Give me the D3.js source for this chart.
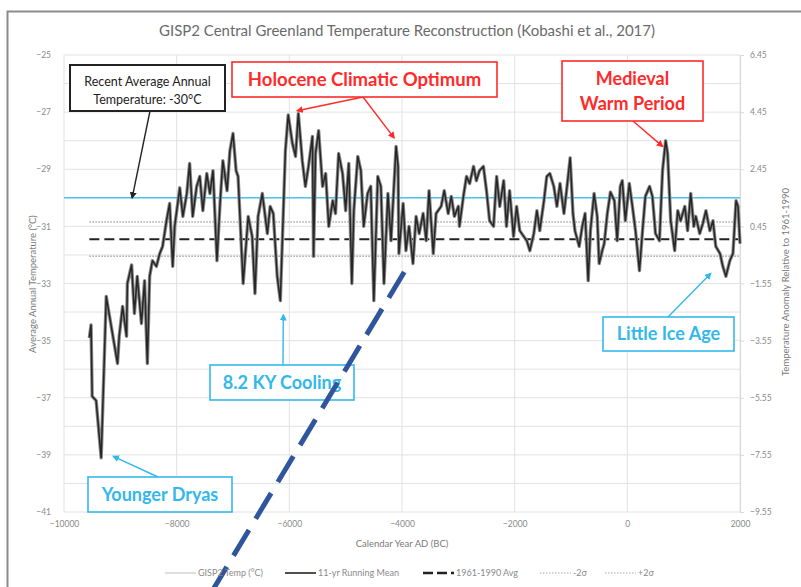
<!DOCTYPE html>
<html>
<head>
<meta charset="utf-8">
<style>
body { margin: 0; background: #fff; }
text { font-family: Lato, "Open Sans", sans-serif; }
.grid line { stroke: #e2e2e2; stroke-width: 1; }
.axis text { fill: #8a8a8a; font-size: 8.5px; }
.axis .domain { stroke: #d9d9d9; }
.axis line { stroke: #d9d9d9; }
.title { fill: #6a6a6a; font-size: 15px; }
.atitle { fill: #7a7a7a; font-size: 9.5px; }
.legend text { fill: #8a8a8a; font-size: 9px; }
</style>
</head>
<body>
<svg width="801" height="587"></svg>
<script src="https://d3js.org/d3.v7.min.js"></script>
<script>
// GISP2 reconstruction (year AD, deg C)
var years = [
  -9550,-9520,-9500,-9430,-9340,-9250,-9230,-9110,-9050,-9020,
  -8960,-8890,-8875,-8800,-8750,-8700,-8625,-8570,-8520,-8480,
  -8430,-8360,-8300,-8250,-8180,-8125,-8070,-8035,-7945,-7890,
  -7820,-7770,-7715,-7645,-7590,-7535,-7465,-7410,-7355,-7285,
  -7230,-7180,-7105,-7055,-7000,-6945,-6910,-6820,-6730,-6660,
  -6610,-6555,-6480,-6390,-6340,-6285,-6215,-6160,-6070,-6020,
  -5945,-5890,-5840,-5770,-5715,-5660,-5590,-5570,-5535,-5480,
  -5410,-5355,-5300,-5230,-5180,-5125,-5055,-5000,-4945,-4890,
  -4855,-4785,-4730,-4680,-4610,-4555,-4500,-4430,-4375,-4320,
  -4250,-4195,-4105,-4070,-4055,-3980,-3930,-3875,-3805,-3750,
  -3695,-3625,-3570,-3520,-3445,-3395,-3305,-3250,-3180,-3125,
  -3070,-3000,-2980,-2910,-2855,-2800,-2730,-2680,-2625,-2555,
  -2500,-2445,-2375,-2320,-2265,-2195,-2145,-2090,-2020,-1965,
  -1910,-1840,-1785,-1730,-1660,-1605,-1555,-1480,-1430,-1375,
  -1305,-1250,-1195,-1125,-1070,-1015,-965,-930,-855,-800,
  -750,-695,-655,-590,-535,-500,-445,-410,-355,-300,
  -230,-180,-125,-90,-35,35,90,145,215,270,
  320,395,445,500,570,625,680,715,770,840,
  895,945,1020,1070,1125,1180,1215,1285,1340,1395,
  1465,1520,1570,1645,1695,1750,1820,1875,1930,1965,2000
];
var temps = [
  -34.9,-34.45,-36.95,-37.1,-39.1,-33.45,-33.7,-35.1,-35.8,-34.85,
  -33.8,-34.85,-33.0,-32.35,-34.05,-32.75,-34.4,-32.9,-35.8,-32.75,
  -32.2,-32.4,-31.95,-31.7,-30.8,-30.2,-32.4,-31.0,-29.65,-30.65,
  -29.85,-28.8,-30.65,-29.6,-29.25,-30.45,-29.15,-29.85,-29.05,-32.2,
  -30.2,-28.7,-29.75,-28.35,-27.75,-29.05,-29.25,-33.0,-30.65,-31.35,
  -33.35,-30.65,-29.85,-31.25,-30.3,-30.55,-32.75,-33.6,-28.35,-27.1,
  -28.1,-28.55,-27.05,-28.7,-29.6,-28.9,-27.85,-32.05,-28.45,-27.65,
  -29.6,-29.15,-31.0,-30.1,-30.55,-28.45,-29.15,-30.45,-28.8,-33.0,
  -30.45,-28.55,-29.05,-31.0,-29.85,-29.6,-33.6,-29.25,-29.6,-33.0,
  -29.85,-31.5,-28.2,-28.9,-31.95,-30.2,-31.85,-31.0,-32.3,-30.65,
  -31.25,-30.55,-31.5,-29.75,-31.95,-30.55,-30.3,-29.75,-30.55,-29.95,
  -30.65,-30.3,-31.0,-29.95,-29.25,-29.5,-28.9,-29.4,-29.05,-28.9,
  -29.75,-30.8,-31.0,-29.25,-30.3,-29.4,-31.0,-29.75,-31.35,-30.3,
  -31.15,-31.35,-31.5,-31.85,-31.25,-30.45,-31.15,-30.1,-29.25,-29.15,
  -29.6,-30.3,-29.5,-30.55,-29.6,-28.6,-30.55,-31.15,-31.7,-31.0,
  -30.55,-32.9,-31.15,-29.85,-30.65,-32.3,-31.85,-31.6,-30.55,-29.8,
  -30.1,-31.5,-29.6,-29.4,-30.8,-29.5,-30.3,-31.15,-32.55,-31.15,
  -29.95,-29.6,-29.95,-31.25,-31.5,-29.05,-28.0,-28.45,-30.8,-31.85,
  -30.45,-30.8,-30.3,-31.15,-29.85,-31.0,-30.65,-31.25,-30.9,-30.45,
  -31.15,-30.8,-31.7,-31.95,-32.4,-32.75,-32.2,-31.95,-30.1,-30.3,-31.6
];

var recentAvg = -30;        // recent annual average
var baseAvg = -31.45;       // 1961-1990 avg
var sigma2 = [-30.85, -32.05];
var leftTicks = [-25, -27, -29, -31, -33, -35, -37, -39, -41];
var rightTicks = [6.45, 4.45, 2.45, 0.45, -1.55, -3.55, -5.55, -7.55, -9.55];
var xTicks = [-10000, -8000, -6000, -4000, -2000, 0, 2000];
var legendLabels = ["GISP2 Temp (\u00B0C)", "11-yr Running Mean", "1961-1990 Avg", "-2\u03C3", "+2\u03C3"];
var trendLine = [[-3960, -32.6], [-7380, -43.8]];

var svg = d3.select("svg");

var x = d3.scaleLinear().domain([-10000, 2000]).range([64, 740]);
var y = d3.scaleLinear().domain([-41, -25]).range([512, 55]);
var yR = d3.scaleLinear().domain([-9.55, 6.45]).range([512, 55]);

// outer frame
svg.append("rect").attr("x", 7.5).attr("y", 11.5).attr("width", 820).attr("height", 600)
  .attr("fill", "none").attr("stroke", "#8c8c8c").attr("stroke-width", 2);

svg.append("text").attr("class", "title").attr("x", 407).attr("y", 36)
  .attr("text-anchor", "middle")
  .text("GISP2 Central Greenland Temperature Reconstruction (Kobashi et al., 2017)");

// grid
var grid = svg.append("g").attr("class", "grid");
grid.selectAll(".h").data(d3.range(-41, -24, 1)).enter().append("line")
  .attr("x1", x(-10000)).attr("x2", x(2000))
  .attr("y1", d => y(d)).attr("y2", d => y(d));
grid.selectAll(".v").data(xTicks).enter().append("line")
  .attr("x1", d => x(d)).attr("x2", d => x(d))
  .attr("y1", y(-25)).attr("y2", y(-41));

// axes
var gl = svg.append("g").attr("class", "axis").attr("transform", "translate(" + (x(-10000) - 10) + ",0)")
  .call(d3.axisLeft(y).tickValues(leftTicks).tickSize(0).tickFormat(d3.format("d")));
gl.select(".domain").remove();

svg.append("g").attr("class", "axis").attr("transform", "translate(" + x(2000) + ",0)")
  .call(d3.axisRight(yR).tickValues(rightTicks).tickSize(4).tickPadding(6).tickFormat(d3.format(".2f")));

var gx = svg.append("g").attr("class", "axis").attr("transform", "translate(0," + (y(-41) + 6) + ")")
  .call(d3.axisBottom(x).tickValues(xTicks).tickSize(0).tickFormat(d3.format("d")));
gx.select(".domain").remove();

svg.append("text").attr("class", "atitle").attr("x", 402).attr("y", 547)
  .attr("text-anchor", "middle").text("Calendar Year AD (BC)");
svg.append("text").attr("class", "atitle").attr("text-anchor", "middle")
  .attr("transform", "translate(36,284) rotate(-90)").text("Average Annual Temperature (\u00B0C)");
svg.append("text").attr("class", "atitle").attr("text-anchor", "middle")
  .attr("transform", "translate(789,282) rotate(-90)").text("Temperature Anomaly Relative to 1961-1990");

// reference lines
svg.append("line").attr("x1", x(-10000)).attr("x2", x(2000))
  .attr("y1", y(recentAvg)).attr("y2", y(recentAvg))
  .attr("stroke", "#4cc3ee").attr("stroke-width", 1.6);

sigma2.forEach(function(v) {
  svg.append("line").attr("x1", x(years[0])).attr("x2", x(2000))
    .attr("y1", y(v)).attr("y2", y(v))
    .attr("stroke", "#a8a8a8").attr("stroke-width", 1.5).attr("stroke-dasharray", "1.5,1.5");
});

svg.append("line").attr("x1", x(years[0])).attr("x2", x(2000))
  .attr("y1", y(baseAvg)).attr("y2", y(baseAvg))
  .attr("stroke", "#222").attr("stroke-width", 2).attr("stroke-dasharray", "10,5");

// series
var pts = years.map((d, i) => [d, temps[i]]);
var line = d3.line().x(d => x(d[0])).y(d => y(d[1]));
svg.append("path").datum(pts).attr("d", line)
  .attr("fill", "none").attr("stroke", "#8a8a8a").attr("stroke-width", 3.4).attr("stroke-linejoin", "round");
svg.append("path").datum(pts).attr("d", line)
  .attr("fill", "none").attr("stroke", "#262626").attr("stroke-width", 1.5).attr("stroke-linejoin", "round");

// annotations
var defs = svg.append("defs");
[["k", "#222"], ["r", "#ff2a2a"], ["b", "#33b8ec"]].forEach(function(m) {
  defs.append("marker").attr("id", "ah-" + m[0]).attr("viewBox", "0 0 10 10")
    .attr("refX", 8).attr("refY", 5).attr("markerWidth", 7).attr("markerHeight", 7)
    .attr("markerUnits", "userSpaceOnUse").attr("orient", "auto")
    .append("path").attr("d", "M0,0 L10,5 L0,10 z").attr("fill", m[1]);
});

var notes = [
  { lines: ["Recent Average Annual", "Temperature: -30\u00B0C"], c: "#222", m: "k", box: [70, 65, 155, 46], fs: 12.5, bold: false, lh: 18, dy: 3, from: [150, 111], to: [[-8790, -30]] },
  { lines: ["Holocene Climatic Optimum"], c: "#ff2a2a", m: "r", box: [232, 62, 265, 35], fs: 18.5, bold: true, lh: 24, dy: 0, from: [363, 97], to: [[-5860, -26.95], [-4140, -27.9]] },
  { lines: ["Medieval", "Warm Period"], c: "#ff2a2a", m: "r", box: [562, 61, 141, 60], fs: 18, bold: true, lh: 25, dy: 0, from: [633, 121], to: [[625, -28.2]] },
  { lines: ["8.2 KY Cooling"], c: "#33b8ec", m: "b", box: [210, 365, 144, 35], fs: 18, bold: true, lh: 24, dy: 0, from: [283, 365], to: [[-6107, -34.1]] },
  { lines: ["Younger Dryas"], c: "#33b8ec", m: "b", box: [88, 477, 144, 35], fs: 18, bold: true, lh: 24, dy: 0, from: [158, 477], to: [[-9125, -39.05]] },
  { lines: ["Little Ice Age"], c: "#33b8ec", m: "b", box: [603, 317, 131, 34], fs: 18, bold: true, lh: 24, dy: 0, from: [668, 317], to: [[1480, -32.65]] }
];

notes.forEach(function(n) {
  var g = svg.append("g");
  n.to.forEach(function(t) {
    g.append("line").attr("x1", n.from[0]).attr("y1", n.from[1])
      .attr("x2", x(t[0])).attr("y2", y(t[1]))
      .attr("stroke", n.c).attr("stroke-width", 1.4).attr("marker-end", "url(#ah-" + n.m + ")");
  });
  g.append("rect").attr("x", n.box[0]).attr("y", n.box[1]).attr("width", n.box[2]).attr("height", n.box[3])
    .attr("fill", "#fff").attr("stroke", n.c).attr("stroke-width", n.bold ? 1.6 : 2);
  var cy = n.box[1] + n.box[3] / 2 - (n.lines.length - 1) * n.lh / 2 + n.dy;
  n.lines.forEach(function(s, i) {
    g.append("text").attr("x", n.box[0] + n.box[2] / 2).attr("y", cy + i * n.lh)
      .attr("dy", "0.35em").attr("text-anchor", "middle")
      .attr("fill", n.c).attr("font-size", n.fs + "px").attr("font-weight", n.bold ? "bold" : "normal")
      .text(s);
  });
});

// big dashed blue line
svg.append("line").attr("x1", x(trendLine[0][0])).attr("y1", y(trendLine[0][1]))
  .attr("x2", x(trendLine[1][0])).attr("y2", y(trendLine[1][1]))
  .attr("stroke", "#2f559c").attr("stroke-width", 5).attr("stroke-dasharray", "30,13");

// legend
var legStyles = [
  { c: "#c8c8c8", w: 1.2, dash: null, x: 165 },
  { c: "#505050", w: 2, dash: null, x: 285 },
  { c: "#222", w: 2.5, dash: "10,4", x: 423 },
  { c: "#a8a8a8", w: 1.2, dash: "1.5,1.5", x: 540 },
  { c: "#a8a8a8", w: 1.2, dash: "1.5,1.5", x: 605 }
];
var leg = svg.append("g").attr("class", "legend");
legendLabels.forEach(function(lbl, i) {
  var s = legStyles[i];
  leg.append("line").attr("x1", s.x).attr("x2", s.x + 31).attr("y1", 573).attr("y2", 573)
    .attr("stroke", s.c).attr("stroke-width", s.w).attr("stroke-dasharray", s.dash);
  leg.append("text").attr("x", s.x + 33).attr("y", 576).text(lbl);
});
</script>
</body>
</html>
